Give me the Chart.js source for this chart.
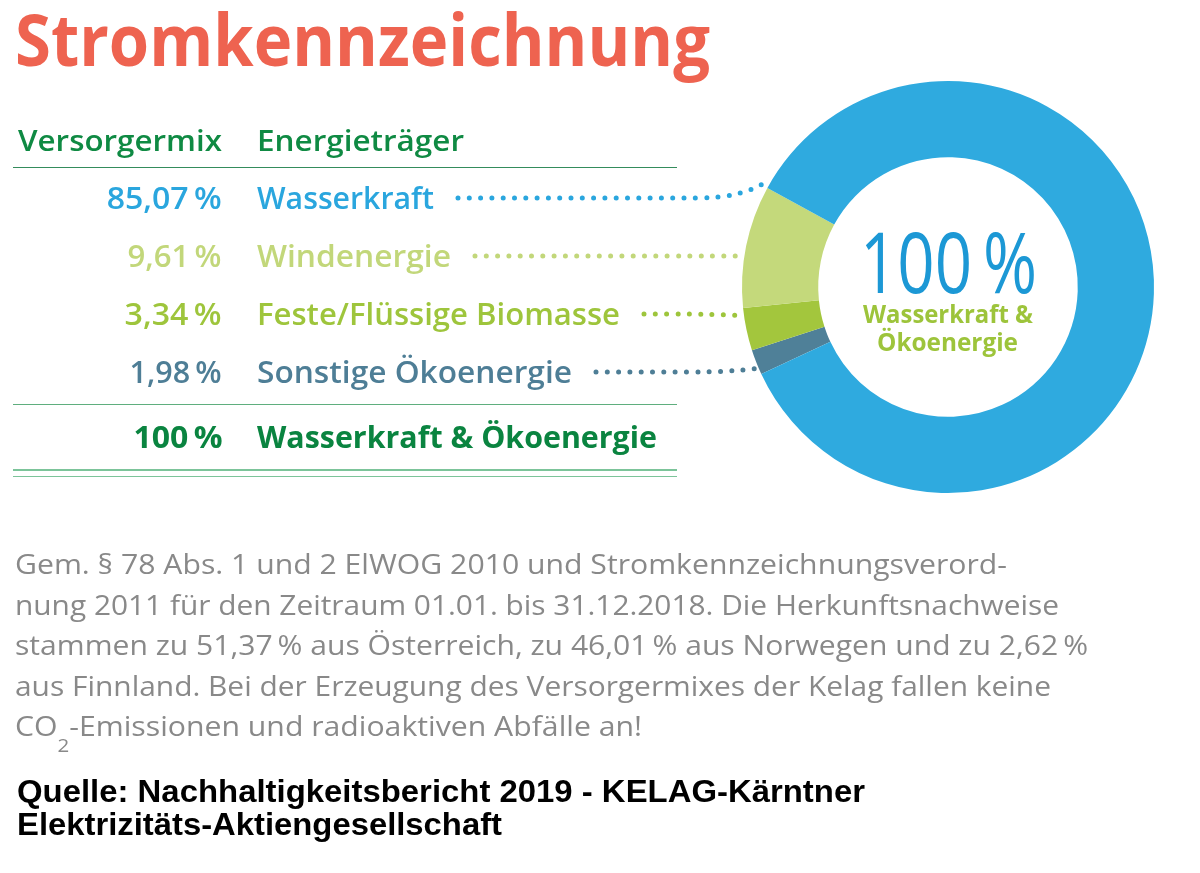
<!DOCTYPE html>
<html><head><meta charset="utf-8">
<script src="https://cdn.jsdelivr.net/npm/chart.js@4"></script>
<style>
html,body{margin:0;padding:0;background:#fff;width:1200px;height:873px;overflow:hidden;}
#wrap{position:relative;width:1200px;height:873px;}
#c{position:absolute;left:0;top:0;}
.t{position:absolute;white-space:nowrap;font-family:'Open Sans','Noto Sans',sans-serif;line-height:1.2;}
.rule{position:absolute;left:13px;width:664px;}
</style></head><body>
<div id="wrap"><canvas id="c" width="1200" height="873"></canvas></div>
<script>
// ---------- data ----------
const title = 'Stromkennzeichnung';
const headers = ['Versorgermix', 'Energieträger'];
const categories = ['Wasserkraft', 'Windenergie', 'Feste/Flüssige Biomasse', 'Sonstige Ökoenergie'];
const shares = [85.07, 9.61, 3.34, 1.98];
const totalShare = 100;
const totalLabel = 'Wasserkraft & Ökoenergie';
const centerMain = '100\u2009%';
const centerSub = ['Wasserkraft &', 'Ökoenergie'];
const noteLines = [
  'Gem. § 78 Abs. 1 und 2 ElWOG 2010 und Stromkennzeichnungsverord-',
  'nung 2011 für den Zeitraum 01.01. bis 31.12.2018. Die Herkunftsnachweise',
  'stammen zu 51,37\u2009% aus Österreich, zu 46,01\u2009% aus Norwegen und zu 2,62\u2009%',
  'aus Finnland. Bei der Erzeugung des Versorgermixes der Kelag fallen keine',
  'CO<span class="sub">2</span>-Emissionen und radioaktiven Abfälle an!'
];
const sourceLines = ['Quelle: Nachhaltigkeitsbericht 2019 - KELAG-Kärntner', 'Elektrizitäts-Aktiengesellschaft'];

// ---------- styles / layout ----------
const ringColors = ['#2faadf', '#c4d97b', '#a3c63d', '#4f8098'];
const textColors = ['#2aa6de', '#c2d77a', '#9ec53c', '#4e7e96'];
const GREEN = '#0f8a43';
const ROW_BASE = [209, 267, 325, 383];
const NUM_W = [115, 94, 97, 92];
const LBL_R = [434, 451, 620, 572];
const NOTE_BASE = [574, 614.5, 655, 695.5, 736];
const NOTE_R = [1007, 1059, 1088, 1051, 642];

const wrap = document.getElementById('wrap');
const fmt = v => (Number.isInteger(v) ? String(v) : v.toFixed(2).replace('.', ',')) + '\u2009%';

function makeText(html, css) {
  const el = document.createElement('div');
  el.className = 't';
  el.innerHTML = html;
  Object.assign(el.style, css);
  wrap.appendChild(el);
  return el;
}
function place(el, x, base, targetW, align) {
  el.style.left = '0px'; el.style.top = '0px';
  const probe = document.createElement('span');
  probe.style.cssText = 'display:inline-block;width:0;height:0;vertical-align:baseline;';
  el.appendChild(probe);
  const b = probe.offsetTop;
  const nat = el.getBoundingClientRect().width;
  const s = targetW ? targetW / nat : 1;
  if (align === 'right') {
    el.style.transformOrigin = 'right top';
    el.style.left = (x - nat) + 'px';
  } else {
    el.style.transformOrigin = 'left top';
    el.style.left = x + 'px';
  }
  el.style.transform = 'scaleX(' + s + ')';
  el.style.top = (base - b) + 'px';
  return el;
}
function rule(y, h, color) {
  const d = document.createElement('div');
  d.className = 'rule';
  d.style.top = y + 'px'; d.style.height = h + 'px'; d.style.background = color;
  wrap.appendChild(d);
}

// title
place(makeText(title, {fontSize: '72px', fontWeight: '700', color: '#ee6350'}), 15, 66, 695);
// headers
place(makeText(headers[0], {fontSize: '29px', fontWeight: '600', color: GREEN}), 18, 151, 204);
place(makeText(headers[1], {fontSize: '29px', fontWeight: '600', color: GREEN}), 257, 151, 207);
rule(166.5, 1.5, '#348c5c');
// rows
const labelEls = [];
categories.forEach((c, k) => {
  place(makeText(fmt(shares[k]), {fontSize: '30px', fontWeight: '600', color: textColors[k]}), 222, ROW_BASE[k], NUM_W[k], 'right');
  labelEls.push(place(makeText(c, {fontSize: '30px', fontWeight: '600', color: textColors[k]}), 257, ROW_BASE[k], LBL_R[k] - 257));
});
rule(403.5, 1.5, '#5fae7e');
place(makeText(fmt(totalShare), {fontSize: '30px', fontWeight: '700', color: '#0a8440'}), 222, 448, 89, 'right');
place(makeText(totalLabel, {fontSize: '30px', fontWeight: '700', color: '#0a8440'}), 257, 448, 400);
rule(469, 1.6, '#7cc49a');
rule(475.5, 1.6, '#7cc49a');
// center of ring
place(makeText(centerMain, {fontSize: '84px', fontWeight: '400', color: '#1c98d5'}), 860, 293, 177);
place(makeText(centerSub[0], {fontSize: '25px', fontWeight: '700', color: '#9dc43b'}), 863, 323, 170);
place(makeText(centerSub[1], {fontSize: '25px', fontWeight: '700', color: '#9dc43b'}), 877, 351, 141);
// note
const subStyle = document.createElement('style');
subStyle.textContent = '.sub{font-size:19px;position:relative;top:16px;}';
document.head.appendChild(subStyle);
noteLines.forEach((l, i) => {
  place(makeText(l, {fontSize: '28px', fontWeight: '400', color: '#898989'}), 15, NOTE_BASE[i], NOTE_R[i] - 15);
});
// source
const SRC_FONT = "'Liberation Sans', Arial, sans-serif";
place(makeText(sourceLines[0], {fontSize: '31px', fontWeight: '700', color: '#000', fontFamily: SRC_FONT}), 17, 802, 848);
place(makeText(sourceLines[1], {fontSize: '31px', fontWeight: '700', color: '#000', fontFamily: SRC_FONT}), 17, 835, 485);

// ---------- chart ----------
const order = [3, 2, 1, 0]; // clockwise drawing order
const TAU = Math.PI * 2;
function angDist(a, b) { let d = Math.abs(a - b) % TAU; return d > Math.PI ? TAU - d : d; }
const leaderPlugin = {
  id: 'leaders',
  afterDatasetsDraw(chart) {
    const ctx = chart.ctx;
    const meta = chart.getDatasetMeta(0);
    meta.data.forEach((arc, i) => {
      const k = order[i];
      const cx = arc.x, cy = arc.y, s = arc.startAngle, e = arc.endAngle;
      const R = arc.outerRadius + 3;
      const y0 = ROW_BASE[k] - 11;
      const x0 = labelEls[k].getBoundingClientRect().right + 24;
      const th = Math.PI - Math.asin(Math.max(-1, Math.min(1, (y0 - cy) / R)));
      const m = 2 * Math.PI / 180;
      const lo = s + m, hi = e - m;
      let t = th;
      while (t < lo) t += TAU;
      while (t >= lo + TAU) t -= TAU;
      if (t > hi) t = angDist(th, lo) < angDist(th, hi) ? lo : hi;
      const xe = cx + R * Math.cos(t), ye = cy + R * Math.sin(t);
      ctx.save();
      ctx.strokeStyle = textColors[k];
      ctx.lineWidth = 5;
      ctx.lineCap = 'round';
      ctx.setLineDash([0, 11.3]);
      ctx.beginPath();
      ctx.moveTo(x0, y0);
      const xb = Math.max(x0, xe - 70);
      ctx.lineTo(xb, y0);
      ctx.quadraticCurveTo(xe - 25, y0, xe, ye);
      ctx.stroke();
      ctx.restore();
    });
  }
};

new Chart(document.getElementById('c'), {
  type: 'doughnut',
  data: {
    labels: order.map(k => categories[k]),
    datasets: [{
      data: order.map(k => shares[k]),
      backgroundColor: order.map(k => ringColors[k]),
      borderWidth: 0,
      hoverOffset: 0,
      offset: 0
    }]
  },
  options: {
    responsive: false,
    animation: false,
    events: [],
    rotation: 245,
    cutout: '63%',
    layout: {padding: {left: 742, top: 81, right: 46, bottom: 380}},
    plugins: {legend: {display: false}, tooltip: {enabled: false}, title: {display: false}}
  },
  plugins: [leaderPlugin]
});
</script>
</body></html>
